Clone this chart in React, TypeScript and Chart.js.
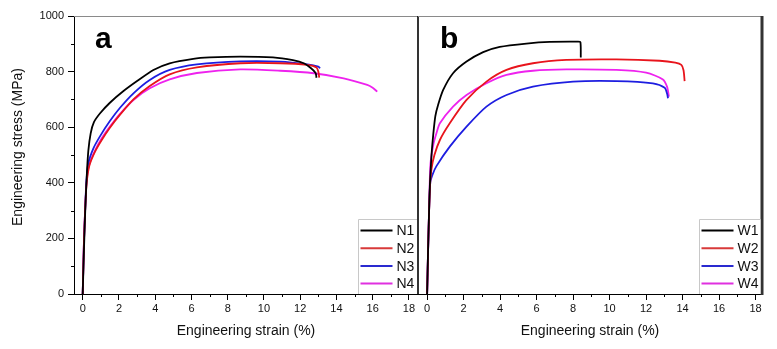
import React, { useEffect, useRef } from "react";
import { Chart, registerables } from "chart.js";

Chart.register(...registerables);

// ---- Data: [strain (%), stress (MPa)] ----
const N1 = [[0,0],[0.07,160],[0.14,300],[0.22,420],[0.31,515],[0.44,578],[0.62,618],[0.96,650],[1.5,688],[2.25,730],[3.0,766],[3.9,806],[4.8,830],[6.1,846],[7.0,851],[8.7,854],[10.5,851],[11.6,841],[12.2,830],[12.6,812],[12.85,795],[12.9,778]];
const N2 = [[0,0],[0.07,190],[0.14,310],[0.22,400],[0.37,462],[0.68,512],[1.05,554],[1.5,598],[2.06,645],[2.8,700],[3.7,748],[4.8,790],[6.3,815],[8.7,830],[10.9,830],[12.4,824],[12.9,815],[13.0,800],[13.05,778]];
const N3 = [[0,0],[0.07,190],[0.14,310],[0.2,400],[0.31,470],[0.59,524],[0.96,568],[1.5,622],[2.06,670],[2.8,722],[3.7,770],[4.8,806],[6.3,826],[8.7,837],[10.9,836],[12.4,826],[13.0,818],[13.1,812]];
const N4 = [[0,0],[0.07,190],[0.14,310],[0.22,410],[0.37,468],[0.68,516],[1.05,560],[1.5,602],[2.06,648],[2.8,698],[3.7,740],[4.8,772],[6.3,795],[8.7,808],[10.9,803],[12.75,794],[14.4,776],[15.7,752],[16.0,742],[16.25,728]];

const W1 = [[0,0],[0.05,150],[0.1,280],[0.15,390],[0.24,500],[0.33,570],[0.45,640],[0.6,680],[0.88,734],[1.42,794],[2.16,836],[3.07,870],[3.98,889],[5.44,901],[6.72,907],[8.27,908],[8.4,906],[8.42,851]];
const W2 = [[0,0],[0.05,150],[0.1,280],[0.16,390],[0.24,450],[0.4,500],[0.7,554],[1.24,614],[2.16,698],[3.25,764],[4.35,806],[5.8,830],[7.63,842],[10.37,844],[12.74,839],[13.6,832],[13.93,824],[14.05,805],[14.11,766]];
const W3 = [[0,0],[0.05,150],[0.1,280],[0.17,400],[0.3,430],[0.51,460],[1.24,530],[2.16,602],[3.25,674],[4.35,716],[5.8,746],[8.0,764],[10.37,766],[12.37,758],[13.02,742],[13.15,720],[13.2,704]];
const W4 = [[0,0],[0.05,150],[0.1,280],[0.15,420],[0.2,480],[0.35,540],[0.51,578],[0.7,614],[1.42,674],[2.16,716],[3.25,758],[4.35,788],[5.8,803],[7.63,808],[10.37,806],[12.0,796],[12.92,772],[13.15,745],[13.25,710]];

const labelsA = ["N1", "N2", "N3", "N4"];
const labelsB = ["W1", "W2", "W3", "W4"];
const seriesColors = ["#000000", "#e8141c", "#1d1de0", "#ee22ee"];
const legendColors = ["#000000", "#d83a3a", "#2a2ad0", "#e030e0"];

const xMajor = [0, 2, 4, 6, 8, 10, 12, 14, 16, 18];
const xMinor = [1, 3, 5, 7, 9, 11, 13, 15, 17];
const yMajor = [0, 200, 400, 600, 800, 1000];
const yMinor = [100, 300, 500, 700, 900];

const xTitle = "Engineering strain (%)";
const yTitle = "Engineering stress (MPa)";

const FONT = "'Liberation Sans', Arial, sans-serif";

function buildDatasets(series: number[][][], labels: string[]) {
  return series.map((s, i) => ({
    label: labels[i],
    data: s.map(([x, y]) => ({ x, y })),
    borderColor: seriesColors[i],
    backgroundColor: seriesColors[i],
    borderWidth: 1.8,
    pointRadius: 0,
    showLine: true,
    tension: 0.25,
    fill: false,
  }));
}

function makeChart(
  canvas: HTMLCanvasElement,
  panel: "a" | "b",
  series: number[][][],
  labels: string[]
) {
  const isA = panel === "a";
  const decor = {
    id: "decor" + panel,
    afterDraw(chart: any) {
      const ctx = chart.ctx as CanvasRenderingContext2D;
      const area = chart.chartArea;
      const xs = chart.scales.x;
      const ys = chart.scales.y;
      ctx.save();
      // minor ticks
      ctx.strokeStyle = "#000";
      ctx.lineWidth = 1;
      ctx.beginPath();
      for (const v of xMinor) {
        const px = Math.round(xs.getPixelForValue(v)) + 0.5;
        ctx.moveTo(px, area.bottom);
        ctx.lineTo(px, area.bottom + 3);
      }
      if (isA) {
        for (const v of yMinor) {
          const py = Math.round(ys.getPixelForValue(v)) + 0.5;
          ctx.moveTo(area.left - 3, py);
          ctx.lineTo(area.left, py);
        }
      }
      ctx.stroke();
      // top border (gray)
      ctx.strokeStyle = "#8a8a8a";
      ctx.lineWidth = 1;
      ctx.beginPath();
      ctx.moveTo(area.left, Math.round(area.top) + 0.5);
      ctx.lineTo(area.right + 1, Math.round(area.top) + 0.5);
      ctx.stroke();
      // right border
      if (isA) {
        ctx.strokeStyle = "#000";
        ctx.lineWidth = 1.6;
        ctx.beginPath();
        ctx.moveTo(area.right, area.top);
        ctx.lineTo(area.right, area.bottom);
        ctx.stroke();
      } else {
        ctx.strokeStyle = "#333";
        ctx.lineWidth = 3;
        ctx.beginPath();
        ctx.moveTo(area.right, area.top);
        ctx.lineTo(area.right, area.bottom + 1);
        ctx.stroke();
      }
      // legend
      const boxL = isA ? 358.5 : 699.5;
      const boxT = 219.5;
      const boxR = area.right - (isA ? 1 : 1.5);
      ctx.fillStyle = "#fff";
      ctx.fillRect(boxL, boxT, boxR - boxL, area.bottom - boxT);
      ctx.strokeStyle = "#c8c8c8";
      ctx.lineWidth = 1;
      ctx.beginPath();
      ctx.moveTo(boxL, area.bottom);
      ctx.lineTo(boxL, boxT);
      ctx.lineTo(boxR, boxT);
      ctx.stroke();
      ctx.font = `14px ${FONT}`;
      ctx.textAlign = "left";
      ctx.textBaseline = "middle";
      labels.forEach((lab, i) => {
        const cy = boxT + 11 + i * 17.7;
        ctx.strokeStyle = legendColors[i];
        ctx.lineWidth = 2;
        ctx.beginPath();
        ctx.moveTo(boxL + 2, cy);
        ctx.lineTo(boxL + 34, cy);
        ctx.stroke();
        ctx.fillStyle = "#111";
        ctx.fillText(lab, boxL + 38, cy + 1);
      });
      // x title
      ctx.fillStyle = "#111";
      ctx.font = `14px ${FONT}`;
      ctx.textAlign = "center";
      ctx.textBaseline = "middle";
      ctx.fillText(xTitle, (area.left + area.right) / 2, 331);
      // y title
      if (isA) {
        ctx.save();
        ctx.translate(18.5, 147);
        ctx.rotate(-Math.PI / 2);
        ctx.fillText(yTitle, 0, 0);
        ctx.restore();
      }
      // panel letter
      ctx.font = `bold 30px ${FONT}`;
      ctx.textAlign = "left";
      ctx.textBaseline = "alphabetic";
      ctx.fillStyle = "#000";
      ctx.fillText(panel, isA ? 95 : 440, 48);
      ctx.restore();
    },
  };

  return new Chart(canvas, {
    type: "scatter",
    data: { datasets: buildDatasets(series, labels) as any },
    options: {
      responsive: false,
      animation: false,
      devicePixelRatio: 1,
      layout: {
        padding: isA
          ? { left: 0, top: 16, right: 777 - 418, bottom: 0 }
          : { left: 418, top: 16, right: 777 - 762, bottom: 0 },
      },
      plugins: {
        legend: { display: false },
        tooltip: { enabled: false },
        title: { display: false },
      },
      scales: {
        x: {
          type: "linear",
          min: isA ? -0.48 : -0.5,
          max: isA ? 18.5 : 18.35,
          afterBuildTicks: (scale: any) => {
            scale.ticks = xMajor.map((v) => ({ value: v }));
          },
          afterFit: (scale: any) => {
            scale.height = 55;
          },
          grid: {
            display: true,
            drawOnChartArea: false,
            drawTicks: true,
            tickLength: 6,
            tickColor: "#000",
            tickWidth: 1,
          },
          border: { display: true, color: "#000", width: 1 },
          ticks: {
            padding: 2,
            color: "#111",
            font: { size: 11, family: FONT },
            maxRotation: 0,
            autoSkip: false,
            callback: (v: any) => String(v),
          },
        },
        y: {
          type: "linear",
          display: isA,
          min: 0,
          max: 1000,
          afterBuildTicks: (scale: any) => {
            scale.ticks = yMajor.map((v) => ({ value: v }));
          },
          afterFit: (scale: any) => {
            scale.width = isA ? 74 : 0;
          },
          grid: {
            display: true,
            drawOnChartArea: false,
            drawTicks: true,
            tickLength: 6,
            tickColor: "#000",
            tickWidth: 1,
          },
          border: { display: true, color: "#000", width: 1 },
          ticks: {
            padding: 4,
            color: "#111",
            font: { size: 11, family: FONT },
            autoSkip: false,
            callback: (v: any) => String(v),
          },
        },
      },
    },
    plugins: [decor],
  } as any);
}

export default function App() {
  const refA = useRef<HTMLCanvasElement>(null);
  const refB = useRef<HTMLCanvasElement>(null);

  useEffect(() => {
    const ca = makeChart(refA.current!, "a", [N1, N2, N3, N4], labelsA);
    const cb = makeChart(refB.current!, "b", [W1, W2, W3, W4], labelsB);
    return () => {
      ca.destroy();
      cb.destroy();
    };
  }, []);

  const st: React.CSSProperties = { position: "absolute", left: 0, top: 0 };
  return (
    <div style={{ position: "absolute", left: 0, top: 0, width: 777, height: 349, background: "#fff" }}>
      <canvas ref={refA} width={777} height={349} style={st} />
      <canvas ref={refB} width={777} height={349} style={st} />
    </div>
  );
}
